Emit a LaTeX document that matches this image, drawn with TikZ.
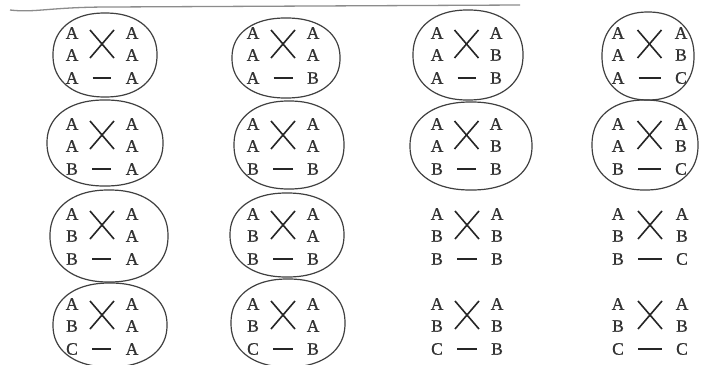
\documentclass[tikz,border=0pt]{standalone}
\usepackage{fontspec}
\setmainfont{Liberation Serif}
\newfontfamily\letterfont[FakeBold=1]{Liberation Serif}
\tikzset{
  lt/.style={inner sep=0pt, font=\letterfont\fontsize{17.5}{17.5}\selectfont, text=black!80},
  xline/.style={line width=1.6pt, draw=black!85},
  dashline/.style={line width=1.8pt, draw=black!85, shorten <=14pt, shorten >=14pt},
  loopline/.style={line width=1.2pt, draw=black!75},
  scanline/.style={line width=1.3pt, draw=black!45},
}
\newcommand{\loopat}[4]{%
  \draw[loopline] plot[domain=0:360, samples=91, smooth cycle]
    ({#1+#3*cos(\x)*pow(abs(cos(\x))+0.0001,-0.1)},
     {#2+#4*sin(\x)*pow(abs(sin(\x))+0.0001,-0.1)});}
\begin{document}
\begin{tikzpicture}[x=1pt,y=-1pt]
\useasboundingbox (0,0) rectangle (703,364);
\fill[white] (0,0) rectangle (703,364);
% faint scan edge at the top
\draw[scanline] (10,10) .. controls (35,13) and (50,7) .. (110,7) -- (520,5);
\foreach \n/\L/\R/\T/\a/\b/\c/\d/\e/\f in {
  ca/72/132/33/A/A/A/A/A/A,
  cb/253/313/33/A/A/A/A/A/B,
  cc/437/496/33/A/A/A/B/A/B,
  cd/618/681/33/A/A/A/B/A/C,
  ce/72/132/124/A/A/A/A/B/A,
  cf/253/313/124/A/A/A/A/B/B,
  cg/437/496/124/A/A/A/B/B/B,
  ch/618/681/124/A/A/A/B/B/C,
  ci/72/132/214/A/A/B/A/B/A,
  cj/253/313/214/A/A/B/A/B/B,
  ck/437/497/214/A/A/B/B/B/B,
  cl/618/682/214/A/A/B/B/B/C,
  cm/72/132/304/A/A/B/A/C/A,
  cn/253/313/304/A/A/B/A/C/B,
  co/437/497/304/A/A/B/B/C/B,
  cp/618/682/304/A/A/B/B/C/C}
{
  \node[lt] (\n a) at (\L,\T) {\a};
  \node[lt] (\n b) at (\R,\T) {\b};
  \node[lt] (\n c) at (\L,\T+22) {\c};
  \node[lt] (\n d) at (\R,\T+22) {\d};
  \node[lt] (\n e) at (\L,\T+45) {\e};
  \node[lt] (\n f) at (\R,\T+45) {\f};
  \pgfmathsetmacro\M{(\L+\R)/2}
  \coordinate (\n x1) at ({\M-12},{\T-3});
  \coordinate (\n x2) at ({\M+12},{\T+25});
  \coordinate (\n x3) at ({\M+12},{\T-3});
  \coordinate (\n x4) at ({\M-12},{\T+25});
  \draw[xline] (\n x1) -- (\n x2);
  \draw[xline] (\n x3) -- (\n x4);
  \draw[dashline] (\n e) -- (\n f);
}
% hand-drawn loops
\loopat{105}{55}{52}{42}
\loopat{286}{58}{54}{40}
\loopat{468}{55}{55}{45}
\loopat{648}{56}{46}{44}
\loopat{105}{143}{58}{43}
\loopat{289}{145}{55}{44}
\loopat{471}{146}{61}{44}
\loopat{645}{145}{53}{45}
\loopat{109}{236}{59}{46}
\loopat{287}{235}{57}{42}
\loopat{110}{325}{57}{42}
\loopat{288}{323}{57}{44}
\end{tikzpicture}
\end{document}
